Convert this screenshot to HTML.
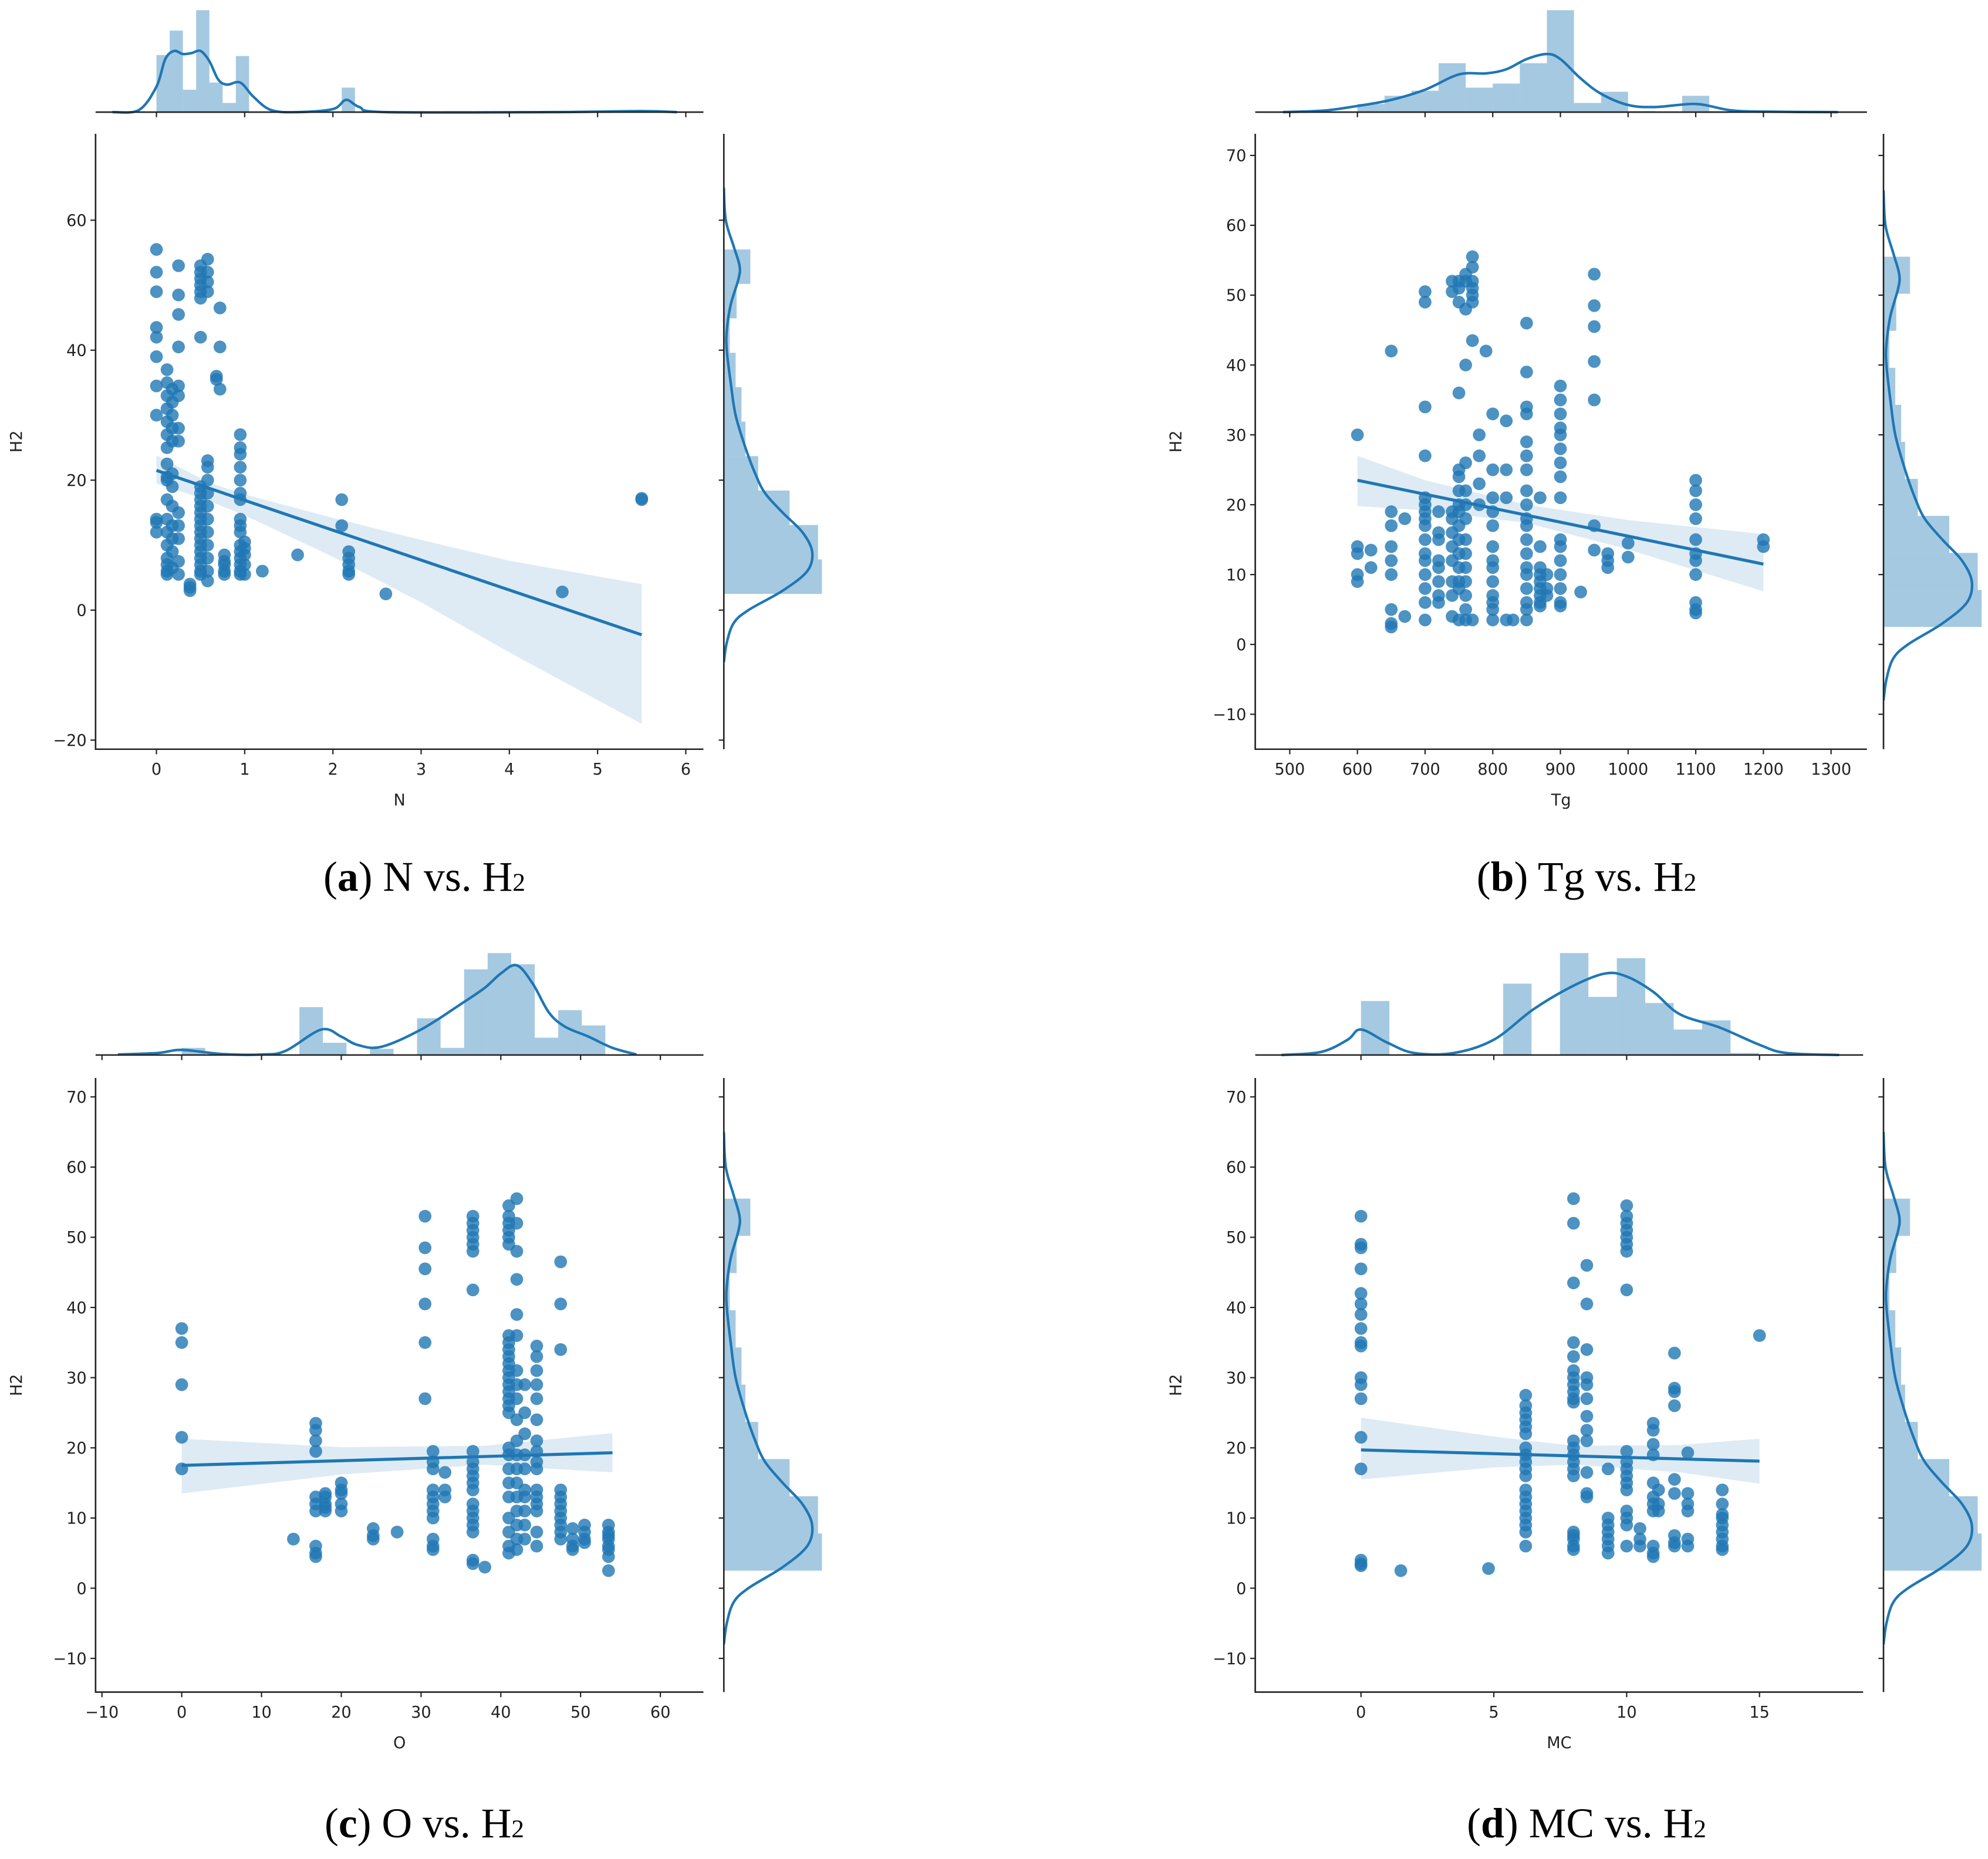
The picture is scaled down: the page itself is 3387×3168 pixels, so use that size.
<!DOCTYPE html>
<html><head><meta charset="utf-8"><style>
html,body{margin:0;padding:0;background:#fff;}
svg{display:block;}
.tk{font-family:"DejaVu Sans","Liberation Sans",sans-serif;font-size:12.5px;fill:#222;}
.cap{font-family:"Liberation Serif",serif;font-size:33px;fill:#000;}
</style></head><body>
<svg id="fig" width="3387" height="3168" viewBox="0 0 1560 1459" preserveAspectRatio="none" xmlns="http://www.w3.org/2000/svg">
<text class="cap" x="333" y="699" text-anchor="middle">(<tspan font-weight="bold">a</tspan>) N vs. H<tspan font-size="20">2</tspan></text>
<text class="cap" x="1245" y="699" text-anchor="middle">(<tspan font-weight="bold">b</tspan>) Tg vs. H<tspan font-size="20">2</tspan></text>
<text class="cap" x="333" y="1442" text-anchor="middle">(<tspan font-weight="bold">c</tspan>) O vs. H<tspan font-size="20">2</tspan></text>
<text class="cap" x="1245" y="1442" text-anchor="middle">(<tspan font-weight="bold">d</tspan>) MC vs. H<tspan font-size="20">2</tspan></text>
</svg>
<script>
// ---- data ----
const aCols=[[0,[55.5,52,49,43.5,42,39,34.5,30,14,13.5,12]],[0.12,[37,35,33,31,29,27,25,22.5,20.5,20,17,14,12,10,8,7,6,5.5]],[0.18,[34,32,30,28,26,21,19,16,13,11,9,6.5]],[0.25,[53,48.5,45.5,40.5,34.5,33,28,26,15,13,11,7.5,5.5]],[0.38,[4,3.5,3]],[0.5,[53,52,51,50,49,48,42,19,18,17,16,15,14,13,12,11,10,9,8,7,6,5.5]],[0.58,[54,52,50.5,49,23,22,20,18,16,14,12,10,8,6,4.5]],[0.68,[36,35.5]],[0.72,[46.5,40.5,34]],[0.77,[8.5,7.5,7,6,5.5]],[0.95,[27,25,24,22,20,18,17,14,13,12,10,9,8,7,6,5.5]],[1.0,[10.5,9.5,8.5,7,5.5]],[1.2,[6]],[1.6,[8.5]],[2.1,[17,13]],[2.18,[9,8,7,6,5.5]],[2.6,[2.5]],[4.6,[2.8]],[5.5,[17.2,17]]];
const bCols=[[600,[30,14,13,10,9]],[620,[13.5,11]],[650,[42,19,17,14,12,10,5,3,2.5]],[670,[18,4]],[700,[50.5,49,34,27,21,20,19,18,17,15,13,12,10,8,6,3.5]],[720,[19,16,15,12,11,9,7,6]],[740,[52,50.5,19,18,16,14,12,9,7,4]],[750,[52,51,49,36,25,24,22,20,19,17,15,13,11,9,8,3.5]],[760,[53,52,48,40,26,22,20,18,15,13,11,9,7,5,3.5]],[770,[55.5,54,52,51,50,49,43.5,3.5]],[780,[30,27,23,20]],[790,[42]],[800,[33,25,21,19,17,14,12,11,9,7,6,5,3.5]],[820,[32,25,21,3.5]],[830,[3.5]],[850,[46,39,34,33,29,27,25,22,20,18,17,15,13,11,10,8,6,5,3.5]],[870,[21,14,11,10,9,8,7,6,5.5]],[880,[10,8,7]],[900,[37,35,33,31,30,28,26,24,21,15,14,12,10,8,6,5.5]],[930,[7.5]],[950,[53,48.5,45.5,40.5,35,17,13.5]],[970,[13,12,11]],[1000,[14.5,12.5]],[1100,[23.5,22,20,18,15,13,12,10,6,5,4.5]],[1200,[15,14]]];
const cCols=[[0,[37,35,29,21.5,17]],[14,[7]],[16.8,[23.5,22.5,21,19.5,13,12,11,6,5,4.5]],[18,[13.5,13,12,11.5,11]],[20,[15,14,13.5,12,11]],[24,[8.5,7.5,7]],[27,[8]],[30.5,[53,48.5,45.5,40.5,35,27]],[31.5,[19.5,18,17,14,13,12,11,10,7,6,5.5]],[33,[16.5,14,13]],[36.5,[53,52,51,50,49,48,42.5,19.5,18,17,16,15,14,12,11,10,9,8,4,3.5]],[38,[3]],[41,[54.5,53,52,51,50,49,36,35,34,33,32,31,30,29,28,27,26,25,20,19,17,15,13,10,8,6,5]],[42,[55.5,52,48,44,39,36,31,29,27,24,21,19,17,15,13,11,9,7,5.5]],[43,[29,25,22,19,17,14,13,11,9,7]],[44.5,[34.5,33,31,29,27,24,21,19.5,18,17,14,13,12,11,8,6]],[47.5,[46.5,40.5,34,14,13,12,11,10,9,8,7]],[49,[8.5,7,6,5.5]],[50.5,[9,8,7,6.5]],[53.5,[9,8,7.5,7,6,5.5,4.5,2.5]]];
const dCols=[[0,[53,49,48.5,45.5,42,40.5,39,37,35,34.5,30,29,27,21.5,17,4,3.5,3.2]],[1.5,[2.5]],[4.8,[2.8]],[6.2,[27.5,26,25,24,23,22,20,19,18,17,16,14,13,12,11,10,9,8,6]],[8,[55.5,52,43.5,35,33,31,30,29,28,27,26.5,21,20,19,18,17,16,8,7.5,7,6,5.5]],[8.5,[46,40.5,34,30,29,27,24.5,22.5,21,13.5,13,16.5]],[9.3,[17,10,9,8,7,6,5]],[10,[54.5,53,52,51,50,49,48,42.5,19.5,18,17,16,15,14,11,10,9,6]],[10.5,[8.5,7,6]],[11,[23.5,22.5,20.5,19,15,13,12,11,6,5,4.5]],[11.2,[14,12,11]],[11.8,[33.5,28.5,28,26,15.5,13.5,7.5,6.5,6]],[12.3,[19.3,13.5,12,11,7,6]],[13.6,[14,12,10.5,10,9,8,7,6,5.5]],[15,[36]]];
// regression lines [x0,y0,x1,y1]
const aFit=[0,21.5,5.5,-3.8], bFit=[600,23.5,1200,11.5], cFit=[0,17.5,54,19.3], dFit=[0,19.7,15,18.1];
// confidence bands
const aCiX=[0,0.6,1,2,3,4,5.5], aCiHi=[23.8,19.6,17.8,14.2,10.8,7.6,4], aCiLo=[19.5,16.8,14.6,8.2,1.2,-6.5,-17.5];
const bCiX=[600,700,850,1000,1200], bCiHi=[27,23.5,20,17.8,15.8], bCiLo=[19.8,19.2,17.4,13.6,7.6];
const cCiX=[0,20,38,54], cCiHi=[21.3,20.1,20.3,22.1], cCiLo=[13.5,16.2,17.6,16.5];
const dCiX=[0,5,8,12,15], dCiHi=[24.3,21.6,20.3,20.4,21.3], dCiLo=[15.5,17.2,17.6,16.5,14.9];
// top histograms
const aHistStart=0, aHistW=0.15, aHist=[0.56,0.8,0.22,1.0,0.29,0.09,0.55,0,0,0,0,0,0,0,0.24,0,0,0,0,0,0,0,0,0,0,0,0,0,0,0,0,0,0,0,0,0,0.01];
const bHistStart=600, bHistW=40, bHist=[0.08,0.16,0.21,0.48,0.24,0.28,0.48,1.0,0.09,0.2,0.01,0,0.16,0.01,0.01];
const cHistStart=0, cHistW=2.95, cHist=[0.07,0,0,0,0,0.47,0.12,0,0.06,0,0.36,0.07,0.84,1.0,0.89,0.17,0.44,0.29];
const dHistStart=0, dHistW=1.07, dHist=[0.53,0,0,0,0,0.7,0,1.0,0.57,0.95,0.51,0.25,0.34,0.02];
// top KDEs
const aKde=[[-0.5,0],[-0.2,0.02],[0,0.25],[0.1,0.52],[0.2,0.6],[0.3,0.57],[0.4,0.58],[0.5,0.6],[0.6,0.5],[0.7,0.32],[0.8,0.27],[0.95,0.29],[1.1,0.15],[1.3,0.02],[1.6,0],[2.0,0.03],[2.15,0.12],[2.3,0.05],[2.6,0],[4.5,0],[5.5,0.01],[5.9,0]];
const bKde=[[490,0],[550,0.015],[600,0.06],[650,0.12],[700,0.22],[750,0.37],[790,0.38],[820,0.42],[850,0.52],[880,0.57],[900,0.52],[930,0.33],[960,0.18],[1000,0.07],[1040,0.05],[1100,0.08],[1150,0.02],[1200,0.005],[1310,0]];
const cKde=[[-8,0.005],[-3,0.02],[0,0.05],[5,0.01],[10,0.005],[13,0.04],[17.5,0.25],[20,0.18],[22,0.1],[25,0.08],[30,0.25],[35,0.5],[38,0.66],[40,0.8],[42,0.88],[44,0.7],[46,0.42],[48,0.28],[51,0.18],[54,0.07],[57,0.005]];
const dKde=[[-3,0],[-1.5,0.03],[-0.5,0.15],[0,0.25],[1,0.12],[2,0.02],[3.5,0.02],[5,0.15],[6.5,0.45],[8,0.68],[9.2,0.8],[10,0.77],[11,0.62],[12,0.4],[13.5,0.27],[15,0.1],[16,0.02],[18,0]];
// right (H2) histogram and KDE, shared
const h2HistStart=2.5, h2HistW=5.3, h2Hist=[1.0,0.96,0.67,0.35,0.22,0.18,0.12,0.06,0.13,0.27];
const h2Kde=[[-8,0],[-5,0.03],[-2,0.1],[0,0.25],[3,0.6],[6,0.85],[9,0.9],[12,0.8],[15,0.6],[18,0.42],[21,0.32],[25,0.22],[30,0.12],[35,0.07],[40,0.03],[43,0.03],[47,0.07],[51,0.15],[53,0.16],[56,0.1],[60,0.02],[65,0]];
// ticks
const aXTicks=[0,1,2,3,4,5,6], aYTicks=[-20,0,20,40,60];
const bXTicks=[500,600,700,800,900,1000,1100,1200,1300], bYTicks=[-10,0,10,20,30,40,50,60,70];
const cXTicks=[-10,0,10,20,30,40,50,60], cYTicks=[-10,0,10,20,30,40,50,60,70];
const dXTicks=[0,5,10,15], dYTicks=[-10,0,10,20,30,40,50,60,70];

// ---- drawing ----
const NS='http://www.w3.org/2000/svg', svg=document.getElementById('fig');
const C='#1f77b4';
function mk(tag,attrs,parent){const e=document.createElementNS(NS,tag);for(const k in attrs)e.setAttribute(k,attrs[k]);(parent||svg).appendChild(e);return e;}
function fmt(v){return v<0?'\u2212'+(-v):String(v);}
function smooth(pts){let d='M'+pts[0][0]+','+pts[0][1];
 for(let i=0;i<pts.length-1;i++){const p0=pts[i-1]||pts[i],p1=pts[i],p2=pts[i+1],p3=pts[i+2]||p2;
  const c1=[p1[0]+(p2[0]-p0[0])/6,p1[1]+(p2[1]-p0[1])/6],c2=[p2[0]-(p3[0]-p1[0])/6,p2[1]-(p3[1]-p1[1])/6];
  d+='C'+c1+' '+c2+' '+p2;}
 return d;}
const panels=[
 {id:'a',L:75,R:552,T:105,B:588,xd:[-0.69,6.2],yd:[-21.4,73.3],mt:8,mb:88,rx:568,rw:77,xl:'N',cols:aCols,fit:aFit,ciX:aCiX,ciHi:aCiHi,ciLo:aCiLo,hs:aHistStart,hw:aHistW,h:aHist,kde:aKde,xt:aXTicks,yt:aYTicks},
 {id:'b',L:985,R:1465,T:105,B:588,xd:[449,1353],yd:[-15,73.1],mt:8,mb:88,rx:1478,rw:77,xl:'Tg',cols:bCols,fit:bFit,ciX:bCiX,ciHi:bCiHi,ciLo:bCiLo,hs:bHistStart,hw:bHistW,h:bHist,kde:bKde,xt:bXTicks,yt:bYTicks},
 {id:'c',L:75,R:552,T:846,B:1328,xd:[-10.8,65.4],yd:[-14.8,72.7],mt:748,mb:828,rx:568,rw:77,xl:'O',cols:cCols,fit:cFit,ciX:cCiX,ciHi:cCiHi,ciLo:cCiLo,hs:cHistStart,hw:cHistW,h:cHist,kde:cKde,xt:cXTicks,yt:cYTicks},
 {id:'d',L:985,R:1462,T:846,B:1328,xd:[-3.98,18.9],yd:[-14.8,72.7],mt:748,mb:828,rx:1478,rw:77,xl:'MC',cols:dCols,fit:dFit,ciX:dCiX,ciHi:dCiHi,ciLo:dCiLo,hs:dHistStart,hw:dHistW,h:dHist,kde:dKde,xt:dXTicks,yt:dYTicks}
];
panels.forEach(p=>{
 const g=mk('g',{});
 
 
 const X=v=>p.L+(v-p.xd[0])/(p.xd[1]-p.xd[0])*(p.R-p.L);
 const Y=v=>p.B-(v-p.yd[0])/(p.yd[1]-p.yd[0])*(p.B-p.T);
 const TH=p.mb-p.mt;
 const TY=d=>p.mb-d*TH;
 const RX=d=>p.rx+d*p.rw;
 p.h.forEach((hv,i)=>{ if(hv<=0)return;
  const x0=X(p.hs+i*p.hw), x1=X(p.hs+(i+1)*p.hw);
  const r=mk('rect',{x:x0,y:TY(hv),width:x1-x0,height:TY(0)-TY(hv),fill:C,'fill-opacity':0.4},g);
   });
 const tk=mk('path',{d:smooth(p.kde.map(q=>[X(q[0]),TY(q[1])])),fill:'none',stroke:C,'stroke-width':2},g);
  
 const ta=mk('line',{x1:p.L,x2:p.R,y1:p.mb,y2:p.mb,stroke:'#222','stroke-width':1.2},g);
  
 const clipId='clip'+p.id;
 const cp=mk('clipPath',{id:clipId},g); mk('rect',{x:p.rx,y:p.T,width:p.rw+20,height:p.B-p.T},cp);
 const rg=mk('g',{'clip-path':'url(#'+clipId+')'},g);
  
 h2Hist.forEach((hv,i)=>{
  const y0=Y(h2HistStart+(i+1)*h2HistW), y1=Y(h2HistStart+i*h2HistW);
  const r=mk('rect',{x:p.rx,y:y0,width:RX(hv)-p.rx,height:y1-y0,fill:C,'fill-opacity':0.4},rg);
   });
 const rk=mk('path',{d:smooth(h2Kde.map(q=>[RX(q[1]),Y(q[0])])),fill:'none',stroke:C,'stroke-width':2},rg);
  
 const ra=mk('line',{x1:p.rx,x2:p.rx,y1:p.T,y2:p.B,stroke:'#222','stroke-width':1.2},g);
  
 let d='M'+p.ciX.map((x,i)=>X(x)+','+Y(p.ciHi[i])).join('L');
 d+='L'+p.ciX.slice().reverse().map((x,i)=>X(x)+','+Y(p.ciLo[p.ciX.length-1-i])).join('L')+'Z';
 const band=mk('path',{d:d,fill:C,'fill-opacity':0.15},g);
  
 p.cols.forEach(col=>col[1].forEach(yv=>{
  const c=mk('circle',{cx:X(col[0]),cy:Y(yv),r:5,fill:C,'fill-opacity':0.8},g);
   }));
 const fl=mk('line',{x1:X(p.fit[0]),y1:Y(p.fit[1]),x2:X(p.fit[2]),y2:Y(p.fit[3]),stroke:C,'stroke-width':2.4},g);
  
 const ax=mk('path',{d:`M${p.L},${p.T}L${p.L},${p.B}L${p.R},${p.B}`,fill:'none',stroke:'#222','stroke-width':1.2},g);
  
 p.xt.forEach(v=>{const x=X(v);
  mk('line',{x1:x,x2:x,y1:p.B,y2:p.B+4,stroke:'#222','stroke-width':1},g);
  mk('line',{x1:x,x2:x,y1:p.mb,y2:p.mb+4,stroke:'#222','stroke-width':1},g);
  const t=mk('text',{x:x,y:p.B+20,'text-anchor':'middle',class:'tk'},g); t.textContent=fmt(v);
   });
 p.yt.forEach(v=>{const y=Y(v);
  mk('line',{x1:p.L-4,x2:p.L,y1:y,y2:y,stroke:'#222','stroke-width':1},g);
  mk('line',{x1:p.rx-4,x2:p.rx,y1:y,y2:y,stroke:'#222','stroke-width':1},g);
  const t=mk('text',{x:p.L-7,y:y+4.5,'text-anchor':'end',class:'tk'},g); t.textContent=fmt(v);
   });
 const xl=mk('text',{x:(p.L+p.R)/2,y:p.B+44,'text-anchor':'middle',class:'tk'},g); xl.textContent=p.xl;
  
 const yx=p.L-58, yy=(p.T+p.B)/2;
 const yl=mk('text',{x:yx,y:yy,'text-anchor':'middle',class:'tk',transform:`rotate(-90 ${yx} ${yy})`},g); yl.textContent='H2';
  
});
</script>
</body></html>
